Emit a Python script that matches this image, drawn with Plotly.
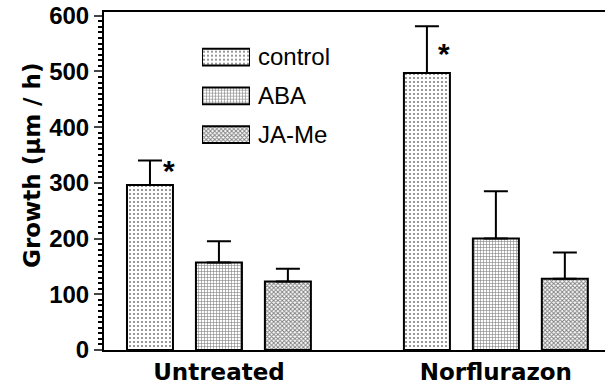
import plotly.graph_objects as go

groups = ["Untreated", "Norflurazon"]
series_names = ["control", "ABA", "JA-Me"]
control_vals = [296, 497]
aba_vals = [157, 200]
jame_vals = [123, 128]
control_err = [44, 84]
aba_err = [38, 85]
jame_err = [23, 47]
patterns = [".", "+", "x"]
y_ticks = [0, 100, 200, 300, 400, 500, 600]
star_y = [323, 533]

FONT = "Liberation Sans, Arial, sans-serif"
BFONT = "DejaVu Sans, sans-serif"

fig = go.Figure()
vals = [control_vals, aba_vals, jame_vals]
errs = [control_err, aba_err, jame_err]
sizes = [4, 3, 3]
solid = [0.22, 0.35, 0.55]

def mk(p, s, so):
    return dict(color="white", line=dict(color="black", width=2),
                pattern=dict(shape=p, fgcolor="black", bgcolor="white", size=s, solidity=so))

for name, v, e, p, s, so in zip(series_names, vals, errs, patterns, sizes, solid):
    fig.add_trace(go.Bar(
        x=[0, 1], y=v, name=name, showlegend=False,
        marker=mk(p, s, so),
        error_y=dict(type="data", array=e, arrayminus=[0, 0], symmetric=False,
                     color="black", thickness=2, width=12),
    ))

# legend swatches drawn on a small overlay axis
for name, p, s, so in zip(series_names, patterns, sizes, solid):
    fig.add_trace(go.Bar(
        x=[1], y=[name], orientation="h", xaxis="x2", yaxis="y2",
        width=0.43, offset=-0.215, base=0, showlegend=False, cliponaxis=False,
        marker=mk(p, s, so), hoverinfo="skip",
    ))

# asterisks
for gi, (sy, xs) in enumerate(zip(star_y, [0.07, 0.06])):
    fig.add_annotation(x=gi - 0.249 + xs, y=sy, text="<b>*</b>", showarrow=False,
                       font=dict(size=30, color="black", family=FONT))

# y-axis title
fig.add_annotation(xref="paper", yref="paper", x=-0.174, y=0.547, textangle=-90,
                   text="<b>Growth (μm / h)</b>", showarrow=False,
                   font=dict(size=23, family=BFONT, color="black"))

fig.update_layout(
    width=608, height=385,
    margin=dict(l=104, r=3, t=12, b=35),
    paper_bgcolor="white", plot_bgcolor="white",
    barmode="group", bargap=0.253, bargroupgap=0.333,
    showlegend=False,
    font=dict(family=FONT, color="black"),
    xaxis=dict(
        range=[-0.415, 1.394], tickvals=[0, 1], ticktext=["<b>" + g + "</b>" for g in groups],
        tickfont=dict(size=23, family=BFONT), showline=True, linecolor="black", linewidth=2,
        mirror=True, ticks="", showgrid=False, zeroline=False, automargin=False,
        ticklabelstandoff=0,
    ),
    yaxis=dict(
        range=[0, 606.6], tickvals=y_ticks, ticktext=["<b>%d</b>" % t for t in y_ticks],
        tickfont=dict(size=24, family=FONT), showline=True, linecolor="black", linewidth=2,
        ticks="outside", ticklen=8, tickwidth=2, showgrid=False, zeroline=False,
        automargin=False, ticklabeloverflow="allow",
        minor=dict(dtick=10, ticks="outside", ticklen=4, tickwidth=1.5, tickcolor="black"),
    ),
    xaxis2=dict(domain=[0.1956, 0.2914], anchor="y2", range=[0, 1], visible=False),
    yaxis2=dict(domain=[0.580, 0.924], anchor="x2", type="category",
                categoryorder="array", categoryarray=series_names[::-1],
                range=[-0.5, 2.5], side="right", showline=False, showgrid=False,
                zeroline=False, ticks="", ticklabelstandoff=7, automargin=False,
                tickfont=dict(size=24, family=FONT, color="black")),
)
fig.write_html("out.html", config={"displayModeBar": False},
               post_script="document.body.style.margin='0px';document.body.style.overflow='hidden';")
